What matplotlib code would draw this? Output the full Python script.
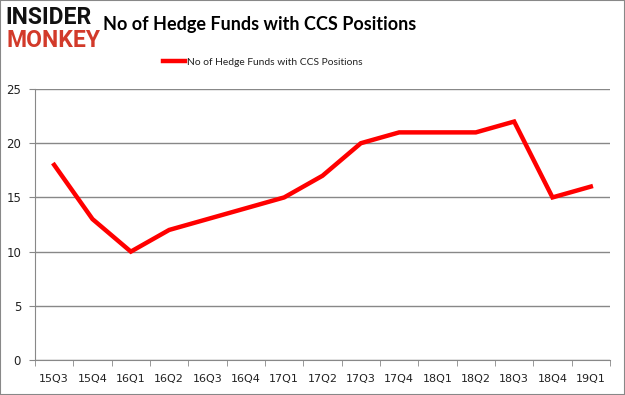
import matplotlib
matplotlib.use("Agg")
import matplotlib.pyplot as plt
from matplotlib.patches import Rectangle

quarters = ["15Q3", "15Q4", "16Q1", "16Q2", "16Q3", "16Q4", "17Q1", "17Q2",
            "17Q3", "17Q4", "18Q1", "18Q2", "18Q3", "18Q4", "19Q1"]
funds = [18, 13, 10, 12, 13, 14, 15, 17, 20, 21, 21, 21, 22, 15, 16]
series_name = "No of Hedge Funds with CCS Positions"
title = "No of Hedge Funds with CCS Positions"

fig = plt.figure(figsize=(6.25, 3.95), dpi=100)
ax = fig.add_axes([0.056, 0.0886, 0.92, 0.686])

x = list(range(len(quarters)))
ax.plot(x, funds, color="#ff0000", linewidth=3.2, solid_joinstyle="miter",
        label=series_name)

ax.set_xlim(-0.5, len(quarters) - 0.5)
ax.set_ylim(0, 25)
ax.set_yticks([0, 5, 10, 15, 20, 25])
ax.set_xticks(x)
ax.set_xticklabels(quarters)
ax.set_xticks([i - 0.5 for i in range(len(quarters) + 1)], minor=True)
ax.tick_params(axis="x", which="major", length=0, pad=10, labelsize=8, labelcolor="#222222")
ax.tick_params(axis="x", which="minor", length=4, color="#888888")
ax.tick_params(axis="y", length=4, color="#888888", labelsize=8.5, labelcolor="#222222", pad=6)
ax.grid(axis="y", color="#888888", linewidth=1)
ax.set_axisbelow(True)
for s in ["top", "right"]:
    ax.spines[s].set_visible(False)
for s in ["left", "bottom"]:
    ax.spines[s].set_color("#888888")

fig.text(0.165, 0.937, title, fontsize=13, fontweight="bold", family="Lato",
         ha="left", va="center", color="#000000")
fig.text(0.009, 0.955, "INSIDER", fontsize=16.5, fontweight="bold",
         family="Roboto", ha="left", va="center", color="#111111")
fig.text(0.010, 0.897, "MONKEY", fontsize=16.5, fontweight="bold",
         family="Roboto", ha="left", va="center", color="#d23a2a")

leg = fig.legend(loc="center", bbox_to_anchor=(0.42, 0.843), frameon=False,
                 prop={"family": "Lato", "size": 7.4},
                 handlelength=2.2, handletextpad=0.1)
for t in leg.get_texts():
    t.set_color("#222222")

fig.patches.append(Rectangle((0, 0), 1, 1, transform=fig.transFigure, fill=False,
                             edgecolor="#888888", linewidth=1.5))
fig.savefig("out.png", dpi=100)
